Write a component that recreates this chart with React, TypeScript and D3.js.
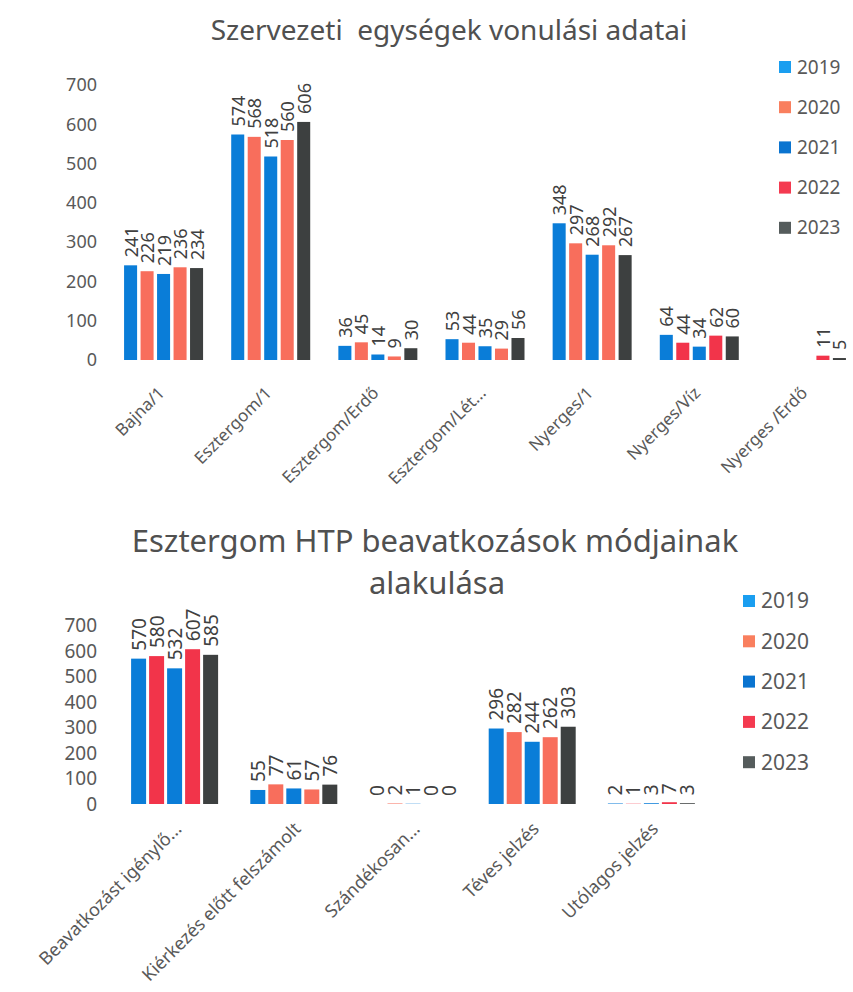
import React from "react";
import * as d3 from "d3";

const years = ["2019", "2020", "2021", "2022", "2023"];

const topCategories = [
  "Bajna/1",
  "Esztergom/1",
  "Esztergom/Erdő",
  "Esztergom/Lét...",
  "Nyerges/1",
  "Nyerges/Víz",
  "Nyerges /Erdő",
];
const top2019 = [241, 574, 36, 53, 348, 64, null];
const top2020 = [226, 568, 45, 44, 297, 44, null];
const top2021 = [219, 518, 14, 35, 268, 34, null];
const top2022 = [236, 560, 9, 29, 292, 62, 11];
const top2023 = [234, 606, 30, 56, 267, 60, 5];
const topRedGroups = ["Nyerges/Víz", "Nyerges /Erdő"];

const botCategories = [
  "Beavatkozást igénylő...",
  "Kiérkezés előtt felszámolt",
  "Szándékosan...",
  "Téves jelzés",
  "Utólagos jelzés",
];
const bot2019 = [570, 55, 0, 296, 2];
const bot2020 = [580, 77, 2, 282, 1];
const bot2021 = [532, 61, 1, 244, 3];
const bot2022 = [607, 57, 0, 262, 7];
const bot2023 = [585, 76, 0, 303, 3];
const botRedGroups = ["Beavatkozást igénylő...", "Utólagos jelzés"];

const yTicks = [0, 100, 200, 300, 400, 500, 600, 700];

const BLUE = "#0a7dd8";
const SALMON = "#f86e5c";
const RED = "#f2344a";
const DARK = "#3d4040";
const barColors = [BLUE, SALMON, BLUE, SALMON, DARK];
const legendColors = ["#1a9ef0", "#f97f5e", "#0a74d0", "#f43a50", "#555c5c"];

const FONT = "'Noto Sans', 'Open Sans', sans-serif";

type ChartProps = {
  categories: string[];
  series: (number | null)[][];
  redGroups: string[];
  xRange: [number, number];
  yRange: [number, number];
  groupHalf: number;
  padInner: number;
  tickFont: number;
  valueFont: number;
  catFont: number;
  catDx: number;
  catY: number;
  legendX: number;
  legendY: number;
  legendStep: number;
  legendFont: number;
  legendSq: number;
};

function BarChart(p: ChartProps) {
  const x0 = d3.scaleBand<string>().domain(p.categories).range(p.xRange).padding(0);
  const x1 = d3
    .scaleBand<string>()
    .domain(years)
    .range([-p.groupHalf, p.groupHalf])
    .paddingInner(p.padInner)
    .paddingOuter(0);
  const y = d3.scaleLinear().domain([0, 700]).range(p.yRange);
  const bw = x1.bandwidth();

  return (
    <g>
      {yTicks.map((t) => (
        <text
          key={"t" + t}
          x={97}
          y={y(t)}
          dy="0.35em"
          textAnchor="end"
          fontSize={p.tickFont}
          fill="#595959"
          fontFamily={FONT}
        >
          {t}
        </text>
      ))}
      {p.categories.map((c, ci) => {
        const cx = (x0(c) as number) + x0.bandwidth() / 2;
        const red = p.redGroups.includes(c);
        return (
          <g key={c}>
            {years.map((yr, si) => {
              const v = p.series[si][ci];
              if (v === null || v === undefined) return null;
              const bx = cx + (x1(yr) as number);
              const top = y(v);
              let col = barColors[si];
              if (red && col === SALMON) col = RED;
              const lx = bx + bw / 2;
              const ly = top - 8;
              return (
                <g key={yr}>
                  <rect
                    x={bx}
                    y={top}
                    width={bw}
                    height={Math.max(0, y(0) - top)}
                    fill={col}
                  />
                  <text
                    transform={`translate(${lx},${ly}) rotate(-90)`}
                    textAnchor="start"
                    dominantBaseline="central"
                    fontSize={p.valueFont}
                    fill="#404040"
                    fontFamily={FONT}
                  >
                    {v}
                  </text>
                </g>
              );
            })}
            <text
              transform={`translate(${cx + p.catDx},${p.catY}) rotate(-45)`}
              textAnchor="end"
              fontSize={p.catFont}
              fill="#595959"
              fontFamily={FONT}
            >
              {c}
            </text>
          </g>
        );
      })}
      {years.map((yr, i) => (
        <g key={"l" + yr}>
          <rect
            x={p.legendX}
            y={p.legendY + i * p.legendStep - p.legendSq / 2}
            width={p.legendSq}
            height={p.legendSq}
            fill={legendColors[i]}
          />
          <text
            x={p.legendX + p.legendSq + 6}
            y={p.legendY + i * p.legendStep}
            dy="0.35em"
            fontSize={p.legendFont}
            fill="#595959"
            fontFamily={FONT}
          >
            {yr}
          </text>
        </g>
      ))}
    </g>
  );
}

export default function App() {
  return (
    <svg
      width={853}
      height={992}
      style={{ position: "absolute", left: 0, top: 0, background: "#fff" }}
    >
      <rect x={0} y={0} width={853} height={992} fill="#fff" />
      <text
        x={449}
        y={40}
        textAnchor="middle"
        fontSize={28}
        fill="#505050"
        fontFamily={FONT}
      >
        {"Szervezeti\u00a0 egységek vonulási adatai"}
      </text>
      <BarChart
        categories={topCategories}
        series={[top2019, top2020, top2021, top2022, top2023]}
        redGroups={topRedGroups}
        xRange={[110, 860]}
        yRange={[360, 85]}
        groupHalf={39.5}
        padInner={0.21}
        tickFont={18}
        valueFont={18}
        catFont={17}
        catDx={2}
        catY={394}
        legendX={779}
        legendY={67}
        legendStep={40.2}
        legendFont={19}
        legendSq={12}
      />
      <text
        x={435}
        y={552}
        textAnchor="middle"
        fontSize={31}
        fill="#505050"
        fontFamily={FONT}
      >
        Esztergom HTP beavatkozások módjainak
      </text>
      <text
        x={437}
        y={594}
        textAnchor="middle"
        fontSize={31}
        fill="#505050"
        fontFamily={FONT}
      >
        alakulása
      </text>
      <BarChart
        categories={botCategories}
        series={[bot2019, bot2020, bot2021, bot2022, bot2023]}
        redGroups={botRedGroups}
        xRange={[115, 711]}
        yRange={[804, 625.5]}
        groupHalf={43.5}
        padInner={0.167}
        tickFont={19}
        valueFont={19}
        catFont={18}
        catDx={8}
        catY={830}
        legendX={743}
        legendY={601}
        legendStep={40.3}
        legendFont={21}
        legendSq={12}
      />
    </svg>
  );
}
